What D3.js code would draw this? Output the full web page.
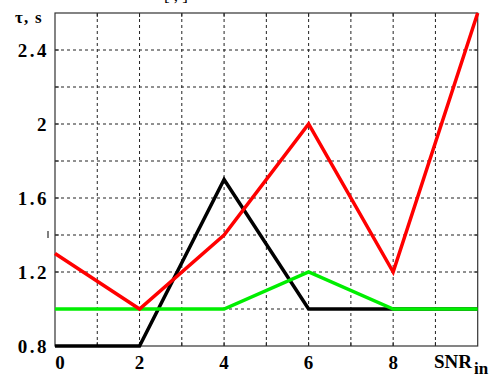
<!DOCTYPE html>
<html><head><meta charset="utf-8">
<script src="https://cdn.jsdelivr.net/npm/d3@7"></script>
<style>body{margin:0;background:#fff}svg{display:block}</style>
</head><body>
<script>
const xValues = [0, 2, 4, 6, 8, 10];
const redSeries = [1.3, 1.0, 1.4, 2.0, 1.2, 2.6];
const blackSeries = [0.8, 0.8, 1.7, 1.0, 1.0, 1.0];
const greenSeries = [1.0, 1.0, 1.0, 1.2, 1.0, 1.0];
const xTickLabels = ["0", "2", "4", "6", "8"];
const yTickValues = [0.8, 1.2, 1.6, 2.0, 2.4];
const yTickLabels = ["0.8", "1.2", "1.6", "2", "2.4"];
const yAxisTitle = "τ, s";
const xAxisTitle = "SNR";
const xAxisSub = "in";

const W = 497, H = 374;
const m = {l: 55, t: 13, r: 19.3, b: 28};
const svg = d3.select("body").append("svg").attr("width", W).attr("height", H);
const x = d3.scaleLinear().domain([0, 10]).range([m.l, W - m.r]);
const y = d3.scaleLinear().domain([0.8, 2.6]).range([H - m.b, m.t]);
const serif = "Liberation Serif, Times New Roman, serif";

// grid
const gx = d3.range(1, 10);
const gy = d3.range(1, 9).map(i => 0.8 + i * 0.2);
svg.append("g").selectAll("line").data(gx).join("line")
  .attr("x1", d => x(d)).attr("x2", d => x(d))
  .attr("y1", y(2.6)).attr("y2", y(0.8))
  .attr("stroke", "#222").attr("stroke-width", 1).attr("stroke-dasharray", "3,3");
svg.append("g").selectAll("line").data(gy).join("line")
  .attr("y1", d => y(d)).attr("y2", d => y(d))
  .attr("x1", x(0)).attr("x2", x(10))
  .attr("stroke", "#222").attr("stroke-width", 1).attr("stroke-dasharray", "3,3");

// small solid ticks on frame
const tk = 4;
svg.append("g").selectAll("line").data(gx).join("line")
  .attr("x1", d => x(d)).attr("x2", d => x(d)).attr("y1", y(2.6)).attr("y2", y(2.6) + tk)
  .attr("stroke", "#222");
svg.append("g").selectAll("line").data(gx).join("line")
  .attr("x1", d => x(d)).attr("x2", d => x(d)).attr("y1", y(0.8)).attr("y2", y(0.8) - tk)
  .attr("stroke", "#222");
svg.append("g").selectAll("line").data(gy).join("line")
  .attr("y1", d => y(d)).attr("y2", d => y(d)).attr("x1", x(0)).attr("x2", x(0) + tk)
  .attr("stroke", "#222");
svg.append("g").selectAll("line").data(gy).join("line")
  .attr("y1", d => y(d)).attr("y2", d => y(d)).attr("x1", x(10)).attr("x2", x(10) - tk)
  .attr("stroke", "#222");

// frame
svg.append("rect").attr("x", x(0)).attr("y", y(2.6))
  .attr("width", x(10) - x(0)).attr("height", y(0.8) - y(2.6))
  .attr("fill", "none").attr("stroke", "#333").attr("stroke-width", 1.2);

// series
const line = d3.line().x((d, i) => x(xValues[i])).y(d => y(d));
[[blackSeries, "#000"], [greenSeries, "#00ee00"], [redSeries, "#ff0000"]].forEach(([s, c]) => {
  svg.append("path").datum(s).attr("d", line).attr("fill", "none")
    .attr("stroke", c).attr("stroke-width", 3.5).attr("stroke-linejoin", "miter");
});

// y tick labels
svg.append("g").selectAll("text").data(yTickValues).join("text")
  .attr("x", 49).attr("y", d => y(d)).attr("dy", "0.35em")
  .attr("text-anchor", "end")
  .attr("font-family", serif)
  .attr("font-size", 19).attr("font-weight", "bold").attr("letter-spacing", 2.5)
  .text((d, i) => yTickLabels[i]);
svg.append("line").attr("x1", 48).attr("x2", 48).attr("y1", y(1.4) - 4).attr("y2", y(1.4) + 3)
  .attr("stroke", "#000").attr("stroke-width", 1);

// x tick labels
svg.append("g").selectAll("text").data(xTickLabels).join("text")
  .attr("x", (d, i) => x(+d) + (i === 0 ? 5 : 0)).attr("y", 369)
  .attr("text-anchor", "middle")
  .attr("font-family", serif)
  .attr("font-size", 19).attr("font-weight", "bold")
  .text(d => d);

// x axis title
const xt = svg.append("text").attr("x", 434).attr("y", 368)
  .attr("font-family", serif)
  .attr("font-size", 19).attr("font-weight", "bold");
xt.append("tspan").text(xAxisTitle);
xt.append("tspan").attr("dy", 6).attr("dx", 2).attr("font-size", 17).text(xAxisSub);

// y axis title
svg.append("text").attr("x", 15).attr("y", 23)
  .attr("font-family", serif).attr("font-weight", "bold")
  .attr("font-size", 17).attr("letter-spacing", 1.2).text(yAxisTitle);

// cut-off top text
svg.append("text").attr("x", 176).attr("y", 1)
  .attr("text-anchor", "middle")
  .attr("font-family", serif)
  .attr("font-size", 17).text("[ ,     ]");
</script>
</body></html>
